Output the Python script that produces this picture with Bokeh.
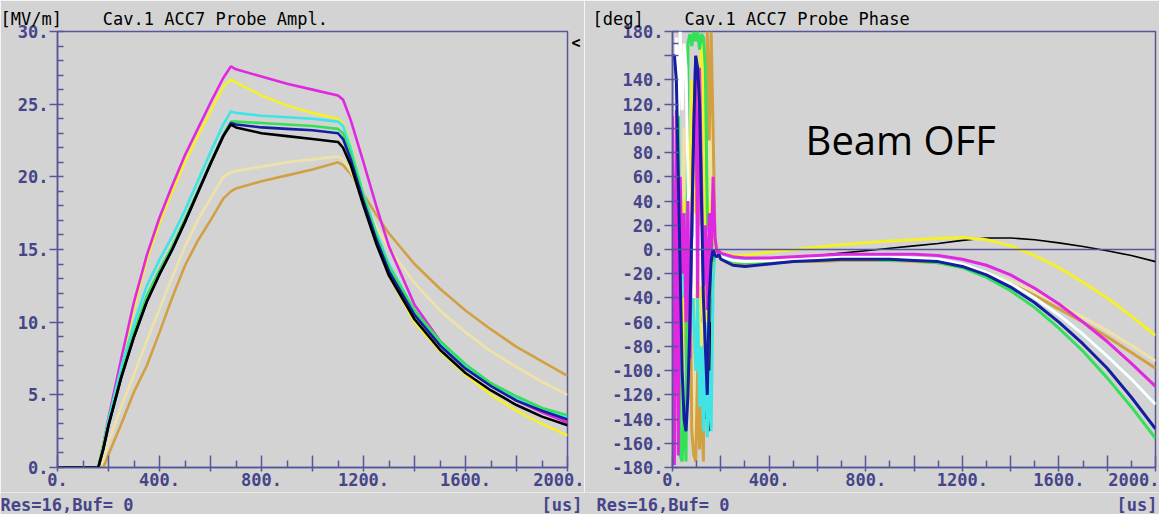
from bokeh.plotting import figure
from bokeh.layouts import row, column
from bokeh.models import Range1d, FixedTicker, Label, Span, LinearAxis, Title
from bokeh.core.properties import value
from bokeh.embed import file_html
from bokeh.resources import INLINE

# ---------------- data: amplitude (MV/m) ----------------
AMP_X = [0, 160, 180, 200, 250, 300, 350, 400, 450, 500, 550, 600, 650, 680, 700, 800, 900, 1000,
         1100, 1120, 1150, 1200, 1250, 1300, 1400, 1500, 1600, 1700, 1800, 1900, 2000]
AMP_GOLD = [0, 0, 0.0, 0.9, 3.0, 5.2, 7.0, 9.3, 11.7, 13.9, 15.6, 17.0, 18.5, 19.0, 19.2, 19.7, 20.1, 20.5,
            21.0, 20.8, 20.2, 18.8, 17.4, 16.1, 14.0, 12.3, 10.8, 9.5, 8.3, 7.3, 6.3]
AMP_PALE = [0, 0, 0.5, 1.8, 4.2, 6.4, 8.7, 10.9, 13.1, 15.2, 17.0, 18.5, 20.0, 20.3, 20.4, 20.7, 21.0, 21.2,
            21.4, 21.2, 20.4, 18.4, 16.6, 15.1, 12.7, 10.8, 9.3, 8.0, 6.9, 5.9, 5.0]
AMP_YELLOW = [0, 0, 1.8, 3.3, 7.2, 11.0, 14.3, 16.8, 19.0, 21.0, 22.8, 24.5, 26.2, 26.7, 26.5, 25.6, 24.9, 24.4,
              24.0, 23.6, 22.2, 18.8, 15.8, 13.2, 10.0, 8.0, 6.4, 5.0, 3.9, 3.0, 2.2]
AMP_MAGENTA = [0, 0, 1.6, 3.4, 7.5, 11.4, 14.6, 17.2, 19.4, 21.5, 23.3, 25.1, 26.8, 27.6, 27.4, 26.9, 26.4, 26.0,
               25.6, 25.3, 23.9, 21.0, 18.0, 15.2, 11.2, 8.7, 7.0, 5.7, 4.6, 3.8, 3.1]
AMP_CYAN = [0, 0, 1.6, 3.3, 6.9, 9.9, 12.5, 14.3, 15.9, 17.7, 19.7, 21.7, 23.6, 24.5, 24.4, 24.2, 24.1, 24.0,
            23.8, 23.5, 22.0, 18.8, 16.2, 14.0, 10.8, 8.6, 7.0, 5.7, 4.8, 4.0, 3.4]
AMP_GREEN = [0, 0, 1.4, 3.0, 6.4, 9.3, 11.8, 13.6, 15.2, 17.1, 19.0, 21.0, 22.9, 23.8, 23.8, 23.7, 23.6, 23.5,
             23.3, 23.0, 21.6, 18.6, 16.0, 13.8, 10.8, 8.7, 7.1, 5.8, 4.9, 4.1, 3.6]
AMP_BLUE = [0, 0, 1.3, 2.9, 6.2, 9.0, 11.4, 13.3, 15.0, 16.9, 18.9, 20.9, 22.8, 23.7, 23.6, 23.4, 23.3, 23.2,
            23.0, 22.6, 21.2, 18.3, 15.7, 13.5, 10.5, 8.4, 6.8, 5.6, 4.6, 3.9, 3.3]
AMP_BLACK = [0, 0, 1.3, 2.9, 6.2, 9.0, 11.4, 13.3, 15.0, 16.9, 18.9, 20.9, 22.8, 23.6, 23.4, 23.0, 22.8, 22.6,
             22.4, 22.0, 20.8, 18.0, 15.4, 13.2, 10.2, 8.1, 6.5, 5.3, 4.3, 3.5, 2.9]

# ---------------- data: phase (deg) ----------------
PH_X_FAST = [0, 8, 16, 24, 32, 40, 48, 56, 64, 72, 80, 88, 96, 104, 112, 120, 128, 136, 144, 152, 160, 168, 176, 184]
PH_X_SLOW = [192, 200, 250, 300, 400, 500, 600, 700, 800, 900, 1000, 1100, 1200, 1300, 1400, 1500, 1600,
             1700, 1800, 1900, 2000]

PH_BLACK_FAST = [-20, -10, -30, 20, -40, 10, 60, -20, 30, -60, -20, 40, -90, 10, 30, -60, 30, -140, -130, -150, -20, 10, 0, -3]
PH_BLACK_SLOW = [-2, -5, -10, -12, -11, -8, -5, -3, -1, 1, 3, 5, 7.5, 9.5, 9.5, 8, 5.5, 2.5, -1, -5, -10]
PH_WHITE_FAST = [-160, -175, 175, 110, 180, 115, 170, 150, 60, -20, 10, -40, 30, -10, 20, -30, 10, -20, 15, -10, 5, -5, 0, -3]
PH_WHITE_SLOW = [-3, -6, -9, -10, -9, -8, -7, -6, -6, -6, -7, -8, -12, -19, -28, -40, -54, -70, -88, -107, -128]
PH_BLUE_FAST = [160, 160, 140, 60, -20, -100, -140, -150, -120, -60, 20, 100, 160, 150, 120, 40, -40, -80, -120, -40, -10, 0, -5, -6]
PH_BLUE_SLOW = [-4, -8, -13, -14, -12, -10, -9, -8, -8, -8, -9, -10, -14, -21, -31, -44, -60, -78, -98, -122, -148]
PH_CYAN_FAST = [-10, 20, -30, 10, 0, 30, -40, 20, 40, -20, 30, -60, -100, -40, -130, -80, -150, -60, -155, -100, -150, -30, 0, -4]
PH_CYAN_SLOW = [-2, -5, -8, -9, -9, -8, -7, -6, -6, -6, -7, -8, -12, -19, -28, -40, -54, -70, -88, -107, -128]
PH_GREEN_FAST = [160, 160, 160, 160, -170, -175, -130, -175, 170, 178, 168, 180, 172, 180, 165, 178, 175, 150, 30, -60, 20, -10, 0, -3]
PH_GREEN_SLOW = [-3, -6, -10, -11, -10, -9, -9, -8, -8, -9, -9, -11, -15, -23, -34, -48, -65, -84, -106, -130, -156]
PH_MAGENTA_FAST = [110, -178, 115, -170, 60, -20, 30, -60, 40, -90, 20, 100, 160, -40, 150, 60, -30, 20, -50, 30, -10, 60, 10, -3]
PH_MAGENTA_SLOW = [-1, -3, -6, -7, -7, -6, -5, -4, -4, -4, -4, -5, -8, -13, -21, -32, -45, -60, -76, -94, -113]
PH_PALE_FAST = [-40, 30, -100, 40, -80, 20, 100, -60, 30, -120, -50, -175, -140, 80, -60, 30, -100, -130, 150, 40, 120, -40, 0, -3]
PH_PALE_SLOW = [-2, -5, -9, -10, -10, -9, -9, -8, -8, -8, -9, -10, -13, -19, -26, -35, -45, -56, -67, -79, -92]
PH_GOLD_FAST = [20, -110, 60, -90, 30, -100, -60, 40, -20, 10, -150, -170, -175, -100, -165, -120, -175, 20, 180, 90, 180, 100, 10, -2]
PH_GOLD_SLOW = [-3, -7, -11, -12, -11, -10, -10, -9, -9, -9, -10, -11, -14, -20, -28, -38, -49, -60, -72, -85, -98]
PH_YELLOW_FAST = [-20, -140, -30, -150, -60, -120, 40, -40, 90, 20, 140, -60, 150, 160, -100, 170, 120, -90, 60, -30, 40, -20, 5, -2]
PH_YELLOW_SLOW = [0, -3, -5, -5, -2, 0, 2, 4, 5.5, 7, 8, 9, 10, 8, 3, -5, -15, -27, -40, -55, -71]

# ---------------- ticks and texts ----------------
X_TICKS = [0, 200, 400, 600, 800, 1000, 1200, 1400, 1600, 1800, 2000]
X_MINOR = [100, 300, 500, 700, 900, 1100, 1300, 1500, 1700, 1900]
X_LABELS = ["0.", "", "400.", "", "800.", "", "1200.", "", "1600.", "", "2000."]
AMP_TICKS = [0, 5, 10, 15, 20, 25, 30]
AMP_LABELS = ["0.", "5.", "10.", "15.", "20.", "25.", "30."]
AMP_MINOR = [1, 2, 3, 4, 6, 7, 8, 9, 11, 12, 13, 14, 16, 17, 18, 19, 21, 22, 23, 24, 26, 27, 28, 29]
PH_TICKS = [-180, -160, -140, -120, -100, -80, -60, -40, -20, 0, 20, 40, 60, 80, 100, 120, 140, 160, 180]
PH_LABELS = ["-180.", "-160.", "-140.", "-120.", "-100.", "-80.", "-60.", "-40.", "-20.", "0.",
             "20.", "40.", "60.", "80.", "100.", "120.", "140.", "", "180."]
PH_MINOR = [170]

AMP_UNIT, AMP_TITLE = "[MV/m]", "Cav.1 ACC7 Probe Ampl."
PH_UNIT, PH_TITLE = "[deg]", "Cav.1 ACC7 Probe Phase"
BOTTOM_TEXTS = ["Res=16,Buf= 0", "[us]", "Res=16,Buf= 0", "[us]"]
NOTE_TEXT = "Beam OFF"

# ---------------- layout / style ----------------
BOTTOM_X = [0, 541, 596, 1116]
W = 1159
MAIN_H, BOT_H = 492, 22
BG = "#d3d3d3"
AXIS = "#56569a"
TICKTXT = "#45458a"
MONO = "DejaVu Sans Mono"
FS = "17px"
GAP = "\u00a0" * 4
C = dict(gold="#d2a040", pale="#efe2a6", yellow="#f4f02c", magenta="#e028e0", cyan="#40e4e4",
         green="#34e058", blue="#141ea0", black="#000000", white="#ffffff")


def strip(height, xs, texts, base, color, style):
    s = figure(width=W, height=height, x_range=Range1d(0, W), y_range=Range1d(height, 0),
               output_backend="svg", toolbar_location=None, title=None, min_border=0,
               x_axis_type=None, y_axis_type=None)
    s.background_fill_color = BG
    s.border_fill_color = BG
    s.outline_line_color = None
    s.xgrid.visible = False
    s.ygrid.visible = False
    s.text(x=xs, y=[base] * len(xs), text=texts, text_font=value(MONO), text_font_size=value(FS),
           text_font_style=style, text_color=color, text_baseline="alphabetic", text_align="left")
    return s


def base_fig(width, bl, br, yr, title, title_offset):
    p = figure(width=width, height=MAIN_H, x_range=Range1d(0, 2000), y_range=Range1d(*yr),
               output_backend="svg", toolbar_location=None, title=None,
               min_border_left=bl, min_border_right=br, min_border_top=31, min_border_bottom=25)
    p.title = Title(text=title, align="left", offset=title_offset, standoff=6, text_font=MONO,
                    text_font_size=FS, text_font_style="normal", text_color="black")
    p.background_fill_color = BG
    p.border_fill_color = BG
    p.outline_line_color = AXIS
    p.outline_line_width = 1.5
    p.xgrid.visible = False
    p.ygrid.visible = False
    for ax in (p.xaxis[0], p.yaxis[0]):
        ax.axis_line_color = AXIS
        ax.axis_line_width = 1.5
        ax.major_tick_line_color = AXIS
        ax.minor_tick_line_color = AXIS
        ax.major_tick_line_width = 1.5
        ax.minor_tick_line_width = 1.5
        ax.major_label_text_font = MONO
        ax.major_label_text_font_size = FS
        ax.major_label_text_font_style = "bold"
        ax.major_label_text_color = TICKTXT
    xa = p.xaxis[0]
    xa.ticker = FixedTicker(ticks=X_TICKS, minor_ticks=X_MINOR)
    xa.major_label_overrides = {t: s for t, s in zip(X_TICKS, X_LABELS)}
    xa.major_tick_in = 12
    xa.major_tick_out = 4
    xa.minor_tick_in = 7
    xa.minor_tick_out = 0
    xa.major_label_standoff = 1
    ya = p.yaxis[0]
    ya.major_tick_in = 6
    ya.major_tick_out = 8
    ya.minor_tick_in = 6
    ya.minor_tick_out = 0
    ya.major_label_standoff = 1
    return p


# ---------------- left: amplitude ----------------
p1 = base_fig(584, 57, 17, (0, 30), AMP_UNIT + GAP + AMP_TITLE, -57)
p1.yaxis[0].ticker = FixedTicker(ticks=AMP_TICKS, minor_ticks=AMP_MINOR)
p1.yaxis[0].major_label_overrides = {t: s for t, s in zip(AMP_TICKS, AMP_LABELS)}
btn = LinearAxis(ticker=FixedTicker(ticks=[29.2]), major_label_overrides={29.2: "<"},
                 axis_line_color=None, major_tick_line_color=None, minor_tick_line_color=None,
                 major_tick_in=0, major_tick_out=0, minor_tick_in=0, minor_tick_out=0,
                 major_label_standoff=4, major_label_text_font=MONO, major_label_text_font_size="15px",
                 major_label_text_font_style="bold", major_label_text_color="black")
p1.add_layout(btn, "right")

for ys, col in [(AMP_GOLD, "gold"), (AMP_PALE, "pale"), (AMP_YELLOW, "yellow"), (AMP_MAGENTA, "magenta"),
                (AMP_CYAN, "cyan"), (AMP_GREEN, "green"), (AMP_BLUE, "blue"), (AMP_BLACK, "black")]:
    p1.line(AMP_X, ys, line_color=C[col], line_width=2.6)

# ---------------- right: phase ----------------
p2 = base_fig(575, 88, 4, (-180, 180), PH_UNIT + GAP + PH_TITLE, -80)
p2.yaxis[0].ticker = FixedTicker(ticks=PH_TICKS, minor_ticks=PH_MINOR)
p2.yaxis[0].major_label_overrides = {t: s for t, s in zip(PH_TICKS, PH_LABELS)}
p2.add_layout(Span(location=0, dimension="width", line_color=AXIS, line_width=1.5))

PX = PH_X_FAST + PH_X_SLOW
for fast, slow, col, lw in [(PH_BLACK_FAST, PH_BLACK_SLOW, "black", 1.6),
                            (PH_PALE_FAST, PH_PALE_SLOW, "pale", 3),
                            (PH_GOLD_FAST, PH_GOLD_SLOW, "gold", 3),
                            (PH_YELLOW_FAST, PH_YELLOW_SLOW, "yellow", 3),
                            (PH_CYAN_FAST, PH_CYAN_SLOW, "cyan", 3),
                            (PH_GREEN_FAST, PH_GREEN_SLOW, "green", 3),
                            (PH_WHITE_FAST, PH_WHITE_SLOW, "white", 3),
                            (PH_MAGENTA_FAST, PH_MAGENTA_SLOW, "magenta", 3),
                            (PH_BLUE_FAST, PH_BLUE_SLOW, "blue", 3)]:
    p2.line(PX, fast + slow, line_color=C[col], line_width=lw)

p2.add_layout(Label(x=551, y=91, text=NOTE_TEXT, text_font="Open Sans", text_font_size="40px",
                    text_color="black", text_baseline="alphabetic"))

bottom = strip(BOT_H, BOTTOM_X, BOTTOM_TEXTS, 12, TICKTXT, "bold")

layout = column(row(p1, p2), bottom)
open("out.html", "w").write(file_html(layout, INLINE))
